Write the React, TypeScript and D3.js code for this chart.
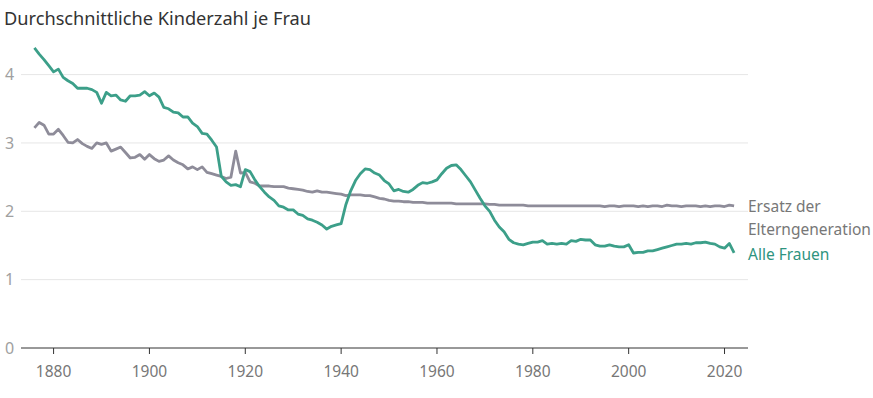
import React from 'react';
import * as d3 from 'd3';

// Durchschnittliche Kinderzahl je Frau, 1876–2022
const startYear = 1876;

const alleFrauen = [
  4.39, 4.30, 4.22, 4.13, 4.04, 4.08, 3.96, 3.91, 3.87, 3.80, // 1876-1885
  3.80, 3.80, 3.78, 3.74, 3.58, 3.74, 3.69, 3.70, 3.63, 3.61, // 1886-1895
  3.69, 3.69, 3.70, 3.75, 3.69, 3.73, 3.67, 3.52, 3.50, 3.45, // 1896-1905
  3.44, 3.38, 3.38, 3.29, 3.24, 3.14, 3.13, 3.04, 2.94, 2.51, // 1906-1915
  2.43, 2.38, 2.39, 2.36, 2.61, 2.58, 2.46, 2.36, 2.28, 2.21, // 1916-1925
  2.16, 2.08, 2.06, 2.02, 2.02, 1.96, 1.94, 1.89, 1.87, 1.84, // 1926-1935
  1.80, 1.74, 1.78, 1.80, 1.82, 2.10, 2.30, 2.45, 2.55, 2.62, // 1936-1945
  2.61, 2.56, 2.53, 2.45, 2.40, 2.30, 2.32, 2.29, 2.28, 2.32, // 1946-1955
  2.38, 2.42, 2.41, 2.43, 2.46, 2.55, 2.63, 2.67, 2.68, 2.61, // 1956-1965
  2.52, 2.43, 2.31, 2.19, 2.08, 2.00, 1.87, 1.77, 1.70, 1.59, // 1966-1975
  1.54, 1.52, 1.51, 1.53, 1.55, 1.55, 1.57, 1.52, 1.53, 1.52, // 1976-1985
  1.53, 1.52, 1.57, 1.56, 1.59, 1.58, 1.58, 1.51, 1.49, 1.49, // 1986-1995
  1.51, 1.49, 1.48, 1.48, 1.51, 1.39, 1.40, 1.40, 1.42, 1.42, // 1996-2005
  1.44, 1.46, 1.48, 1.50, 1.52, 1.52, 1.53, 1.52, 1.54, 1.54, // 2006-2015
  1.55, 1.53, 1.52, 1.48, 1.46, 1.53, 1.39                    // 2016-2022
];

const ersatz = [
  3.22, 3.30, 3.26, 3.13, 3.13, 3.20, 3.11, 3.01, 3.00, 3.05, // 1876-1885
  2.99, 2.95, 2.92, 3.00, 2.98, 3.00, 2.88, 2.91, 2.94, 2.86, // 1886-1895
  2.78, 2.79, 2.83, 2.76, 2.83, 2.77, 2.73, 2.75, 2.81, 2.75, // 1896-1905
  2.71, 2.68, 2.62, 2.65, 2.61, 2.65, 2.57, 2.55, 2.53, 2.51, // 1906-1915
  2.48, 2.50, 2.88, 2.56, 2.57, 2.43, 2.41, 2.37, 2.37, 2.37, // 1916-1925
  2.36, 2.36, 2.36, 2.34, 2.33, 2.32, 2.31, 2.29, 2.28, 2.30, // 1926-1935
  2.28, 2.28, 2.27, 2.26, 2.25, 2.23, 2.24, 2.24, 2.24, 2.23, // 1936-1945
  2.23, 2.21, 2.19, 2.18, 2.16, 2.15, 2.15, 2.14, 2.14, 2.13, // 1946-1955
  2.13, 2.13, 2.12, 2.12, 2.12, 2.12, 2.12, 2.12, 2.11, 2.11, // 1956-1965
  2.11, 2.11, 2.11, 2.11, 2.11, 2.10, 2.10, 2.09, 2.09, 2.09, // 1966-1975
  2.09, 2.09, 2.09, 2.08, 2.08, 2.08, 2.08, 2.08, 2.08, 2.08, // 1976-1985
  2.08, 2.08, 2.08, 2.08, 2.08, 2.08, 2.08, 2.08, 2.08, 2.07, // 1986-1995
  2.08, 2.08, 2.07, 2.08, 2.08, 2.08, 2.07, 2.08, 2.07, 2.08, // 1996-2005
  2.08, 2.07, 2.09, 2.08, 2.08, 2.07, 2.08, 2.08, 2.08, 2.07, // 2006-2015
  2.08, 2.07, 2.08, 2.08, 2.07, 2.09, 2.08                    // 2016-2022
];

const xTicks = [1880, 1900, 1920, 1940, 1960, 1980, 2000, 2020];
const yTicks = [0, 1, 2, 3, 4];

const title = 'Durchschnittliche Kinderzahl je Frau';
const ersatzLabel = ['Ersatz der', 'Elterngeneration'];
const alleLabel = 'Alle Frauen';

const GREEN = '#3c9f89';
const GREY = '#8e8c99';
const FONT = '"Noto Sans", "Open Sans", sans-serif';

export default function App() {
  const width = 873;
  const height = 398;

  const x = d3.scaleLinear().domain([1873.2, 2024.9]).range([21, 748]);
  const y = d3.scaleLinear().domain([0, 4]).range([348, 74.6]);

  const toPoints = (vals: number[]) => vals.map((v, i) => ({ year: startYear + i, v }));

  const line = d3.line<{ year: number; v: number }>()
    .x(d => x(d.year))
    .y(d => y(d.v));

  const lastE = ersatz[ersatz.length - 1];
  const lastA = alleFrauen[alleFrauen.length - 1];

  return (
    <svg width={width} height={height} style={{ position: 'absolute', left: 0, top: 0, background: '#fff' }}>
      <text x={4} y={25} fontFamily={FONT} fontSize={18.2} fill="#333">{title}</text>

      {yTicks.filter(t => t > 0).map(t => (
        <line key={'g' + t} x1={21} x2={748} y1={y(t)} y2={y(t)} stroke="#e6e6e6" strokeWidth={1} />
      ))}
      {yTicks.map(t => (
        <text key={'y' + t} x={5} y={y(t)} dy="0.35em" fontFamily={FONT} fontSize={16} fill="#a0a0a0">{t}</text>
      ))}

      <line x1={21} x2={748} y1={y(0)} y2={y(0)} stroke="#333" strokeWidth={1} />
      {xTicks.map(t => (
        <g key={'x' + t} transform={`translate(${x(t)},0)`}>
          <line y1={y(0)} y2={y(0) + 6} stroke="#333" strokeWidth={1} />
          <text y={y(0) + 24} textAnchor="middle" dy="0.35em" fontFamily={FONT} fontSize={15.5} fill="#777">{t}</text>
        </g>
      ))}

      <path d={line(toPoints(ersatz)) || ''} fill="none" stroke={GREY} strokeWidth={2.8} strokeLinejoin="round" />
      <path d={line(toPoints(alleFrauen)) || ''} fill="none" stroke={GREEN} strokeWidth={2.8} strokeLinejoin="round" />

      <text x={748} y={y(lastE) + 6} fontFamily={FONT} fontSize={15.5} fill="#777">
        <tspan x={748}>{ersatzLabel[0]}</tspan>
        <tspan x={748} dy={23}>{ersatzLabel[1]}</tspan>
      </text>
      <text x={748} y={y(lastA) + 2} dy="0.35em" fontFamily={FONT} fontSize={15.5} fill="#2e9480">{alleLabel}</text>
    </svg>
  );
}
